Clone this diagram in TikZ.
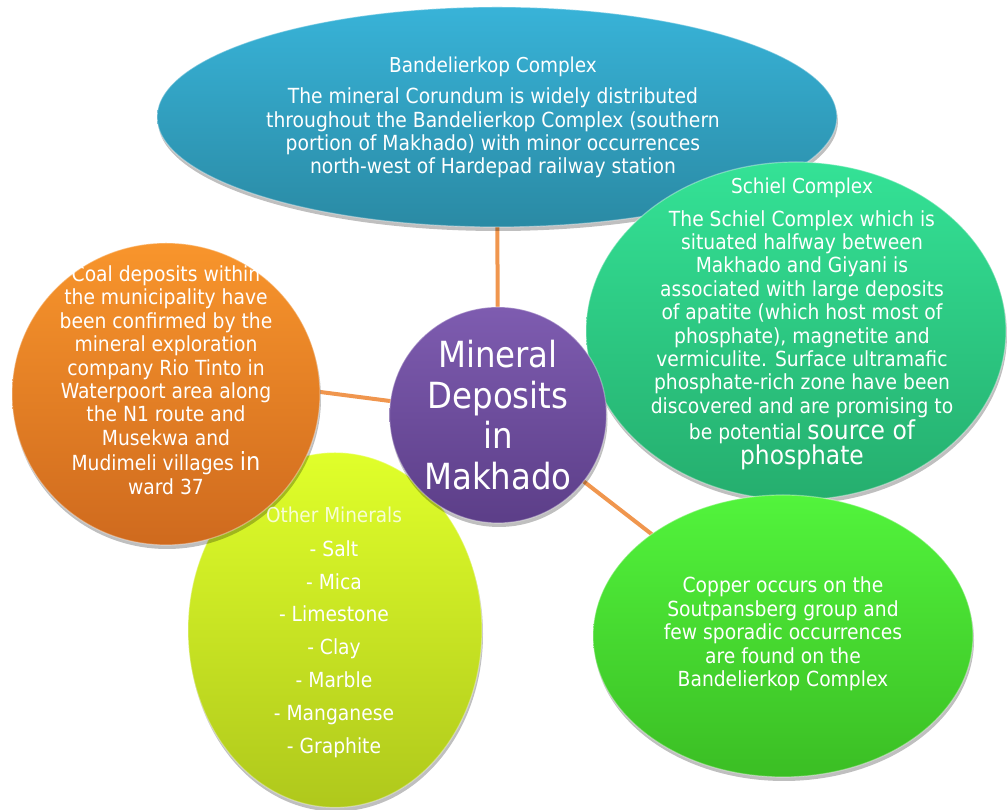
\documentclass[tikz,border=0pt]{standalone}
\usepackage{fontspec}
\setmainfont{DejaVu Sans Condensed}
\usetikzlibrary{shapes.geometric,shadows}
\pgfdeclarelayer{bg}
\pgfsetlayers{bg,main}
\definecolor{linkc}{HTML}{F0964E}
\definecolor{blueT}{HTML}{38B3D8}\definecolor{blueB}{HTML}{2A8AA4}
\definecolor{schT}{HTML}{34E296}\definecolor{schB}{HTML}{25AE6E}
\definecolor{cuT}{HTML}{52F43C}\definecolor{cuB}{HTML}{3BBE24}
\definecolor{ylT}{HTML}{E0FF2A}\definecolor{ylB}{HTML}{AFC81C}
\definecolor{orT}{HTML}{F8952C}\definecolor{orB}{HTML}{CF6A1E}
\definecolor{puT}{HTML}{7E5CB0}\definecolor{puB}{HTML}{5C3E88}
\tikzset{
  blob/.style={ellipse, inner sep=0pt, draw=white, draw opacity=0.35, line width=1.2pt,
    drop shadow={shadow xshift=1pt, shadow yshift=-4pt, opacity=0.25, fill=black}},
  link/.style={draw=linkc, line width=4pt},
  txt/.style={text=white, align=center, inner sep=0pt},
  bodyfont/.style={font=\fontsize{20.8}{23.4}\selectfont},
}
\begin{document}
\begin{tikzpicture}[x=1pt,y=1pt]
\useasboundingbox (0,0) rectangle (1007,810);
% shapes
\node[blob, minimum width=680, minimum height=220, top color=blueT, bottom color=blueB] (bl) at (497,693) {};
\node[blob, minimum width=420, minimum height=338, top color=schT, bottom color=schB] (sc) at (796,479) {};
\node[blob, minimum width=380, minimum height=282, top color=cuT, bottom color=cuB] (cu) at (783,174) {};
\node[blob, minimum width=294, minimum height=355, top color=ylT, bottom color=ylB] (yl) at (335,180) {};
\node[blob, minimum width=308, minimum height=302, top color=orT, bottom color=orB] (or) at (166,416) {};
\node[blob, minimum width=217, minimum height=216, top color=puT, bottom color=puB] (pu) at (498,395) {};
% connectors
\begin{pgfonlayer}{bg}
\draw[link] (pu.center) -- (bl.center);
\draw[link] (pu.center) -- ([yshift=22pt]or.center);
\draw[link] (pu.center) -- (cu.center);
\draw[link] (pu.center) -- (sc.center);
\draw[link] (pu.center) -- (yl.center);
\end{pgfonlayer}
% texts
\node[txt, font=\fontsize{20.5}{22}\selectfont] (blT) at (493,743) {Bandelierkop Complex};
\node[txt, bodyfont] (blB) at (493,677) {The mineral Corundum is widely distributed\\throughout the Bandelierkop Complex (southern\\portion of Makhado) with minor occurrences\\north-west of Hardepad railway station};
\node[txt, font=\fontsize{20.5}{22}\selectfont] (scT) at (802,622) {Schiel Complex};
\node[txt, bodyfont] (scB) at (802,470) {The Schiel Complex which is\\situated halfway between\\Makhado and Giyani is\\associated with large deposits\\of apatite (which host most of\\phosphate), magnetite and\\vermiculite. Surface ultramafic\\phosphate-rich zone have been\\discovered and are promising to\\[1pt]be potential {\fontsize{26}{28}\selectfont source of}\\{\fontsize{26}{28}\selectfont phosphate}};
\node[txt, bodyfont] (orB2) at (166,430) {Coal deposits within\\the municipality have\\been confirmed by the\\mineral exploration\\company Rio Tinto in\\Waterpoort area along\\the N1 route and\\Musekwa and\\[2pt]Mudimeli villages {\fontsize{25}{26}\selectfont in}\\ward 37};
\node[txt, text opacity=0.8, font=\fontsize{20.5}{22}\selectfont] (ylT2) at (334,295) {Other Minerals};
\node[txt, font=\fontsize{20.8}{32.8}\selectfont] (ylB2) at (334,161) {- Salt\\- Mica\\- Limestone\\- Clay\\- Marble\\- Manganese\\- Graphite};
\node[txt, font=\fontsize{36}{40.5}\selectfont] (puT2) at (498,395) {Mineral\\Deposits\\in\\Makhado};
\node[txt, bodyfont] (cuB2) at (783,176) {Copper occurs on the\\Soutpansberg group and\\few sporadic occurrences\\are found on the\\Bandelierkop Complex};
\end{tikzpicture}
\end{document}
